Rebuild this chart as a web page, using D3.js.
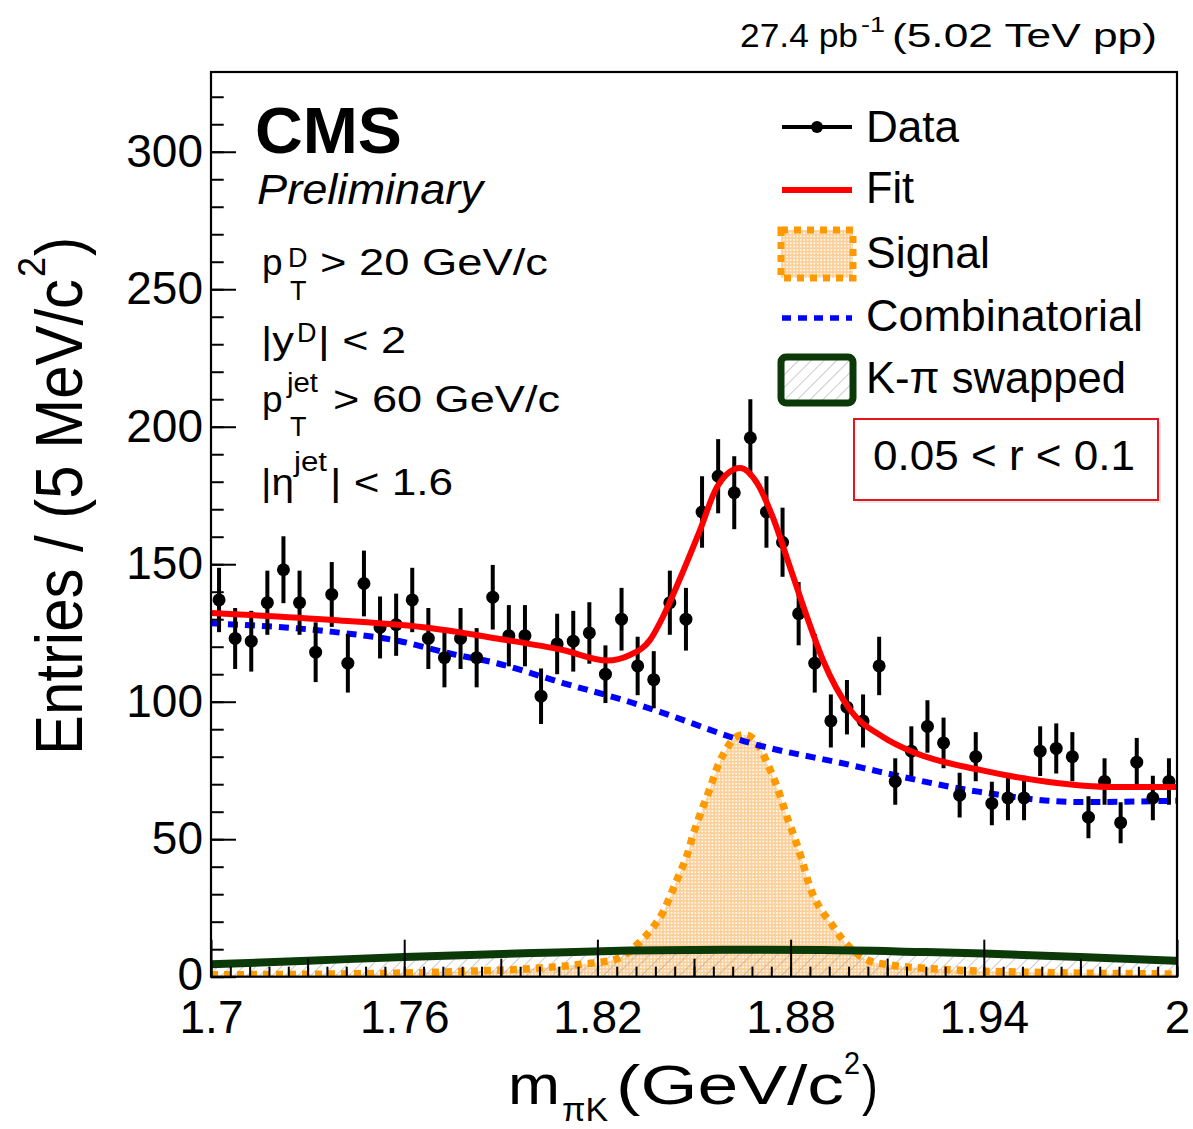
<!DOCTYPE html>
<html><head><meta charset="utf-8">
<script src="https://cdn.jsdelivr.net/npm/d3@7"></script>
<style>
html,body{margin:0;padding:0;background:#fff;}
text{font-family:"Liberation Sans",Arial,Helvetica,sans-serif;fill:#000;}
</style></head>
<body>
<svg id="chart" width="1193" height="1129"></svg>
<script>
// ---------------- DATA ----------------
const binCenters = d3.range(60).map(i => 1.7025 + i * 0.005);
const dataCounts = [137,123,122,136,148,136,118,139,114,143,
                    127,128,137,123,116,123,116,138,124,124,
                    102,121,122,125,110,130,113,108,136,130,
                    169,182,176,196,169,158,132,114,93,98,
                    93,113,71,82,91,85,66,80,63,65,
                    65,82,83,80,58,71,56,78,65,71];
const fitX   = [1.700,1.7379,1.768,1.7888,1.8093,1.823,1.8301,1.8363,1.8404,1.845,1.8519,1.8571,1.8643,1.8696,1.8745,1.8798,1.8851,1.8901,1.8985,1.9087,1.918,1.9388,1.9596,1.9801,2.000];
const fitY   = [132.3,129.7,126.8,123.0,118.8,115.0,117.0,122.4,131.0,143.0,162.5,178.0,185.0,179.5,167.0,149.0,130.8,115.0,97.0,87.2,81.7,75.2,70.9,69.0,69.0];
const combX  = [1.700,1.7379,1.7587,1.7736,1.7888,1.8093,1.8301,1.8394,1.8674,1.8985,1.9078,1.9388,1.9699,2.000];
const combY  = [128.5,125.4,122.0,117.7,114.0,106.8,99.9,96.3,85.0,77.0,74.5,67.2,63.5,64.0];
const sigX   = [1.700,1.740,1.780,1.800,1.815,1.826,1.8332,1.8373,1.8404,1.8432,1.8457,1.8478,1.8497,1.8519,1.855,1.8575,1.8602,1.8627,1.8658,1.8696,1.873,1.8758,1.8792,1.8814,1.8835,1.886,1.8891,1.8922,1.8963,1.9068,1.930,1.960,2.000];
const sigY   = [0.7,1.0,2.0,3.0,4.5,6.5,12.6,18.0,23.5,31.0,38.0,44.0,51.5,59.0,68.6,77.0,83.0,87.0,88.0,85.0,77.0,69.0,57.0,50.0,42.5,32.6,25.0,20.0,13.3,5.0,2.5,1.5,1.0];
const swapX  = [1.70,1.73,1.76,1.80,1.83,1.86,1.89,1.92,1.94,1.97,2.00];
const swapY  = [4.5,5.8,7.2,8.6,9.5,9.8,9.7,9.0,8.4,7.2,5.8];
const xMajorTicks = [1.7,1.76,1.82,1.88,1.94,2.0];
const xTickLabels = ["1.7","1.76","1.82","1.88","1.94","2"];
const xMediumTicks = [1.73,1.79,1.85,1.91,1.97];
const yMajorTicks = [0,50,100,150,200,250,300];
const yTickLabels = ["0","50","100","150","200","250","300"];
const legendLabels = ["Data","Fit","Signal","Combinatorial","K-\u03c0 swapped"];

// ---------------- SETUP ----------------
const svg = d3.select("#chart");
const X0 = 211, X1 = 1177, YT = 72, YB = 976.7;
const x = d3.scaleLinear().domain([1.7, 2.0]).range([X0, X1]);
const y = d3.scaleLinear().domain([0, 329]).range([YB, YT]);

const defs = svg.append("defs");
const pSig = defs.append("pattern").attr("id","sigpat").attr("width",3.4).attr("height",3.4).attr("patternUnits","userSpaceOnUse");
pSig.append("rect").attr("width",3.4).attr("height",3.4).attr("fill","#fbcf98");
pSig.append("rect").attr("x",1).attr("y",1).attr("width",1.6).attr("height",1.6).attr("fill","#ffffff");
const pHat = defs.append("pattern").attr("id","hatpat").attr("width",9).attr("height",9).attr("patternUnits","userSpaceOnUse").attr("patternTransform","rotate(45)");
pHat.append("line").attr("x1",0).attr("y1",0).attr("x2",0).attr("y2",9).attr("stroke","#a8a8a8").attr("stroke-width",1.2);
const clip = defs.append("clipPath").attr("id","plotclip");
clip.append("rect").attr("x",X0).attr("y",YT).attr("width",X1-X0).attr("height",YB-YT);

const zip = (xs, ys) => xs.map((v,i)=>[v, ys[i]]);
const line = d3.line().x(d=>x(d[0])).y(d=>y(d[1])).curve(d3.curveMonotoneX);
const area = d3.area().x(d=>x(d[0])).y0(y(0)).y1(d=>y(d[1])).curve(d3.curveMonotoneX);

const plot = svg.append("g").attr("clip-path","url(#plotclip)");
const sigPts = zip(sigX, sigY), swapPts = zip(swapX, swapY);
// signal fill
plot.append("path").attr("d", area(sigPts)).attr("fill","url(#sigpat)");
// swapped hatch
plot.append("path").attr("d", area(swapPts)).attr("fill","url(#hatpat)");
// signal outline
plot.append("path").attr("d", line(sigPts)).attr("fill","none").attr("stroke","#ff9900")
    .attr("stroke-width",7.5).attr("stroke-dasharray","7,6");
// swapped line
plot.append("path").attr("d", line(swapPts)).attr("fill","none").attr("stroke","#0b3a08").attr("stroke-width",8);
// combinatorial
plot.append("path").attr("d", line(zip(combX, combY))).attr("fill","none").attr("stroke","#0000ff")
    .attr("stroke-width",6).attr("stroke-dasharray","10,7");
// data
const dg = plot.append("g");
dataCounts.forEach((v,i)=>{
  const e = Math.sqrt(v);
  dg.append("line").attr("x1",x(binCenters[i])).attr("x2",x(binCenters[i]))
    .attr("y1",y(v-e)).attr("y2",y(v+e)).attr("stroke","#000").attr("stroke-width",4);
  dg.append("circle").attr("cx",x(binCenters[i])).attr("cy",y(v)).attr("r",6.5).attr("fill","#000");
});
// fit
plot.append("path").attr("d", line(zip(fitX, fitY))).attr("fill","none").attr("stroke","#ff0000").attr("stroke-width",6);

// ---------------- AXES ----------------
const axStyle = g => { g.select(".domain").remove(); g.selectAll(".tick line").attr("stroke","#000").attr("stroke-width",2); };
svg.append("g").attr("transform",`translate(0,${YB})`)
  .call(d3.axisBottom(x).tickValues(d3.range(0,51).map(i=>1.7+i*0.006)).tickSize(-10).tickFormat(""))
  .call(axStyle);
svg.append("g").attr("transform",`translate(0,${YB})`)
  .call(d3.axisBottom(x).tickValues(xMediumTicks).tickSize(-18).tickFormat(""))
  .call(axStyle);
const xa = svg.append("g").attr("transform",`translate(0,${YB})`)
  .call(d3.axisBottom(x).tickValues(xMajorTicks).tickSize(-37).tickPadding(23.5).tickFormat((d,i)=>xTickLabels[i]))
  .call(axStyle);
xa.selectAll("text").attr("font-size",46).attr("font-family","Liberation Sans, Arial, sans-serif").attr("fill","#000");

svg.append("g").attr("transform",`translate(${X0},0)`)
  .call(d3.axisLeft(y).tickValues(d3.range(0,330,10)).tickSize(-12.7).tickFormat(""))
  .call(axStyle);
const ya = svg.append("g").attr("transform",`translate(${X0},0)`)
  .call(d3.axisLeft(y).tickValues(yMajorTicks).tickSize(-25).tickPadding(8).tickFormat((d,i)=>yTickLabels[i]))
  .call(axStyle);
ya.selectAll("text").attr("font-size",46).attr("font-family","Liberation Sans, Arial, sans-serif").attr("fill","#000")
  .attr("dy", d => d === 0 ? "0.28em" : "0.32em");

// frame
svg.append("rect").attr("x",X0).attr("y",YT).attr("width",X1-X0).attr("height",YB-YT)
  .attr("fill","none").attr("stroke","#000").attr("stroke-width",2.2);

// ---------------- TEXT ----------------
function t(xp, yp, str, size, opts={}) {
  const el = svg.append("text").attr("x",xp).attr("y",yp).attr("font-size",size).text(str);
  if (opts.len) el.attr("textLength",opts.len).attr("lengthAdjust","spacingAndGlyphs");
  if (opts.weight) el.attr("font-weight",opts.weight);
  if (opts.style) el.attr("font-style",opts.style);
  if (opts.anchor) el.attr("text-anchor",opts.anchor);
  return el;
}
// top-right lumi
t(740, 47, "27.4 pb", 33, {len:118});
t(861, 32, "-1", 22, {len:24});
t(892, 47, "(5.02 TeV pp)", 33, {len:265});

// CMS / Preliminary
t(255, 153, "CMS", 65, {weight:"bold", len:147});
t(257, 204, "Preliminary", 42, {style:"italic", len:226});

// cuts
t(262, 275, "p", 37);
t(288, 267, "D", 27);
t(290, 300, "T", 27);
t(320, 275, "> 20 GeV/c", 37, {len:228});

t(261, 353, "|y", 37, {len:33});
t(297, 342, "D", 27);
t(318, 353, "| < 2", 37, {len:88});

t(262, 412, "p", 37);
t(287, 392, "jet", 27, {len:31});
t(290, 436, "T", 27);
t(333, 412, "> 60 GeV/c", 37, {len:227});

t(261, 495, "|\u03b7", 37, {len:33});
t(294, 471, "jet", 27, {len:33});
t(330, 495, "| < 1.6", 37, {len:123});

// axis titles
const yl = svg.append("g").attr("transform","translate(82,755) rotate(-90)");
yl.append("text").attr("x",0).attr("y",0).attr("font-size",66).attr("textLength",476).attr("lengthAdjust","spacingAndGlyphs").text("Entries / (5 MeV/c");
yl.append("text").attr("x",478).attr("y",-37).attr("font-size",38).attr("textLength",20).attr("lengthAdjust","spacingAndGlyphs").text("2");
yl.append("text").attr("x",499).attr("y",0).attr("font-size",66).attr("textLength",19).attr("lengthAdjust","spacingAndGlyphs").text(")");

t(508, 1104, "m", 56, {len:52});
t(562, 1121, "\u03c0K", 34, {len:46});
t(616, 1104, "(GeV/c", 56, {len:228});
t(844, 1074, "2", 32, {len:16});
t(862, 1104, ")", 56, {len:16});

// ---------------- LEGEND ----------------
const lx1 = 782, lx2 = 852, lmid = 817;
const lg = svg.append("g");
// Data
lg.append("line").attr("x1",lx1).attr("x2",lx2).attr("y1",127).attr("y2",127).attr("stroke","#000").attr("stroke-width",4);
lg.append("circle").attr("cx",lmid).attr("cy",127).attr("r",6).attr("fill","#000");
// Fit
lg.append("line").attr("x1",lx1).attr("x2",lx2).attr("y1",190).attr("y2",190).attr("stroke","#ff0000").attr("stroke-width",6);
// Signal
lg.append("rect").attr("x",781).attr("y",230).attr("width",72).attr("height",48).attr("fill","url(#sigpat)")
  .attr("stroke","#ff9900").attr("stroke-width",7).attr("stroke-dasharray","7,6");
// Combinatorial
lg.append("line").attr("x1",lx1).attr("x2",lx2).attr("y1",318).attr("y2",318).attr("stroke","#0000ff").attr("stroke-width",5.5).attr("stroke-dasharray","9,7");
// K-pi swapped
lg.append("rect").attr("x",781).attr("y",357).attr("width",72).attr("height",46).attr("rx",5)
  .attr("fill","url(#hatpat)").attr("stroke","#0b3a08").attr("stroke-width",7);
const ly = [142, 203, 268, 331, 393];
const lw = [93, 48, 124, 277, 260];
legendLabels.forEach((s,i)=> t(866, ly[i], s, 44, {len:lw[i]}));

// r box
svg.append("rect").attr("x",857).attr("y",422).attr("width",304).attr("height",81).attr("fill","#d8d8d8").attr("opacity",0.6);
svg.append("rect").attr("x",854).attr("y",419).attr("width",304).attr("height",81).attr("fill","#fff").attr("stroke","#e8141b").attr("stroke-width",2);
t(873, 470, "0.05 < r < 0.1", 43, {len:262});
</script>
</body></html>
